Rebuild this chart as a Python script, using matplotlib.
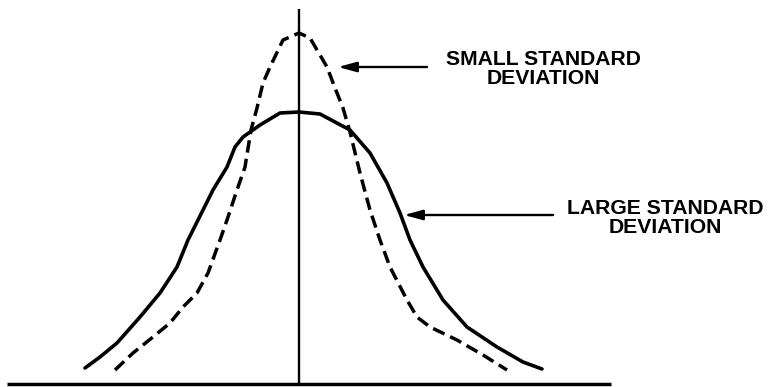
import matplotlib
matplotlib.use("Agg")
import matplotlib.pyplot as plt

# Large standard deviation curve (solid), x in spread units, y as height
large_x = [-4.28, -3.98, -3.64, -3.18, -2.78, -2.44, -2.22, -1.92, -1.72, -1.44,
           -1.28, -1.12, -0.78, -0.38, 0.00, 0.42, 1.02, 1.42, 1.76, 2.02,
           2.22, 2.48, 2.88, 3.36, 3.96, 4.48, 4.86]
large_y = [0.16, 0.27, 0.41, 0.67, 0.91, 1.17, 1.44, 1.74, 1.94, 2.17,
           2.37, 2.47, 2.59, 2.71, 2.72, 2.70, 2.54, 2.31, 2.01, 1.71,
           1.44, 1.17, 0.84, 0.57, 0.37, 0.22, 0.15]

# Small standard deviation curve (dashed)
small_x = [-3.68, -3.32, -2.92, -2.58, -2.32, -2.04, -1.82, -1.58, -1.44, -1.24,
           -1.08, -0.96, -0.84, -0.72, -0.58, -0.32, 0.00, 0.22, 0.56, 0.72,
           0.88, 1.02, 1.22, 1.42, 1.62, 1.82, 2.16, 2.36, 2.62, 3.16,
           3.68, 4.16]
small_y = [0.14, 0.31, 0.47, 0.61, 0.77, 0.91, 1.11, 1.44, 1.64, 1.94,
           2.17, 2.54, 2.76, 3.01, 3.17, 3.44, 3.51, 3.46, 3.17, 2.96,
           2.76, 2.52, 2.11, 1.74, 1.44, 1.17, 0.84, 0.67, 0.57, 0.44,
           0.29, 0.14]

small_label = "SMALL STANDARD\nDEVIATION"
large_label = "LARGE STANDARD\nDEVIATION"

fig = plt.figure(figsize=(7.69, 3.87), dpi=100)
ax = fig.add_axes([0, 0, 1, 1])
ax.set_xlim(-5.98, 9.40)
ax.set_ylim(-0.03, 3.84)
ax.axis("off")

# baseline and centre line
ax.plot([-5.84, 6.24], [0, 0], color="black", lw=2.5, solid_capstyle="butt")
ax.plot([0, 0], [0, 3.75], color="black", lw=1.7, solid_capstyle="butt")

ax.plot(large_x, large_y, color="black", lw=2.6,
        solid_joinstyle="round", solid_capstyle="round")
ax.plot(small_x, small_y, color="black", lw=2.5, linestyle=(0, (3.6, 1.8)),
        dash_joinstyle="round", dash_capstyle="butt")

arrow = dict(arrowstyle="-|>,head_length=1.1,head_width=0.3",
             mutation_scale=10, color="black", lw=1.7,
             shrinkA=0, shrinkB=0)
ax.annotate("", xy=(0.78, 3.17), xytext=(2.56, 3.17), arrowprops=arrow)
ax.annotate("", xy=(2.10, 1.69), xytext=(5.08, 1.69), arrowprops=arrow)

font = dict(family="Liberation Sans", fontsize=15.2, fontweight="bold",
            ha="center", va="center", multialignment="center",
            linespacing=0.97)
ax.text(4.88, 3.15, small_label, **font)
ax.text(7.32, 1.66, large_label, **font)

fig.savefig("out.png", dpi=100)
